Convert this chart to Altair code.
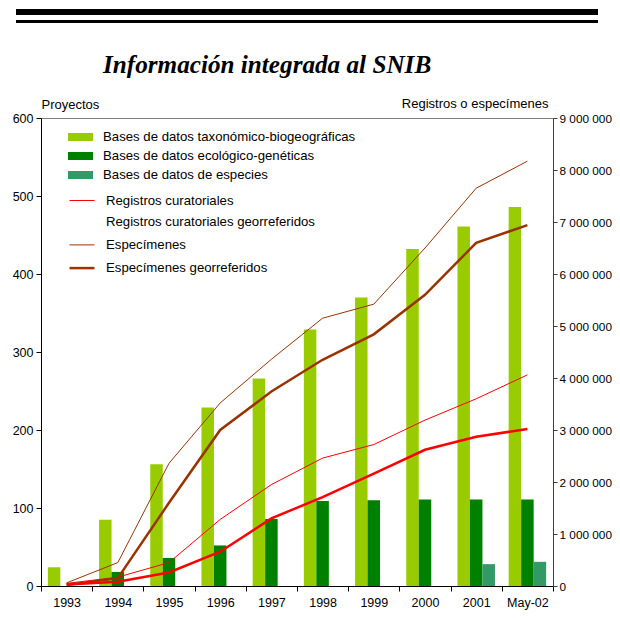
import altair as alt
import pandas as pd

# ---- data ----
years = ["1993", "1994", "1995", "1996", "1997", "1998", "1999", "2000", "2001", "May-02"]

bar_series = [
    "Bases de datos taxonómico-biogeográficas",
    "Bases de datos ecológico-genéticas",
    "Bases de datos de especies",
]
taxo = [24, 85, 156, 229, 266, 329, 370, 432, 461, 486]
eco = [0, 18, 36, 52, 86, 109, 110, 111, 111, 111]
especies = [0, 0, 0, 0, 0, 0, 0, 0, 28, 31]

line_series = [
    "Registros curatoriales",
    "Registros curatoriales georreferidos",
    "Especímenes",
    "Especímenes georreferidos",
]
reg_cur = [50000, 170000, 450000, 1280000, 1950000, 2460000, 2720000, 3190000, 3600000, 4060000]
reg_geo = [30000, 80000, 260000, 660000, 1300000, 1710000, 2160000, 2620000, 2870000, 3020000]
espec = [60000, 450000, 2360000, 3520000, 4360000, 5150000, 5420000, 6500000, 7650000, 8170000]
espec_geo = [20000, 150000, 1600000, 3000000, 3740000, 4350000, 4840000, 5600000, 6600000, 6940000]

bar_colors = ["#99CC00", "#008000", "#339966"]
line_colors = ["#FF0000", "#FF0000", "#993300", "#993300"]
# legend symbol of the georeferenced records is blank in the reference:
legend_widths = [1, 0, 1, 2.5]

title_text = "Información integrada al SNIB"

# ---- tables ----
bar_rows = []
for i, yr in enumerate(years):
    for s, vals in zip(bar_series, [taxo, eco, especies]):
        bar_rows.append({"anio": yr, "serie": s, "valor": vals[i]})
bars_df = pd.DataFrame(bar_rows)

line_rows = []
for s, vals in zip(line_series, [reg_cur, reg_geo, espec, espec_geo]):
    for i, yr in enumerate(years):
        line_rows.append({"anio": yr, "serie": s, "valor": vals[i]})
lines_df = pd.DataFrame(line_rows)

FONT = "Liberation Sans"

x_axis = alt.Axis(
    title=None, labelAngle=0, tickBand="extent", tickSize=5, labelPadding=5,
    domainColor="black", tickColor="black", labelColor="black",
    labelFontSize=12.5, grid=False,
)
x_enc = alt.X("anio:N", sort=years,
              scale=alt.Scale(domain=years, paddingInner=0, paddingOuter=0),
              axis=x_axis)

bars = alt.Chart(bars_df).mark_bar().encode(
    x=x_enc,
    xOffset=alt.XOffset("serie:N", sort=bar_series,
                        scale=alt.Scale(domain=bar_series, paddingInner=0, paddingOuter=0.548)),
    y=alt.Y("valor:Q", scale=alt.Scale(domain=[0, 600]),
            axis=alt.Axis(
                values=[0, 100, 200, 300, 400, 500, 600], grid=False,
                tickSize=5, labelPadding=3, domainColor="black", tickColor="black",
                labelColor="black", labelFontSize=12.5,
                title="Proyectos", titleAngle=0, titleX=0, titleY=-10,
                titleAlign="left", titleBaseline="alphabetic",
                titleFontWeight="normal", titleFontSize=13, titleColor="black",
            )),
    color=alt.Color("serie:N", sort=bar_series,
                    scale=alt.Scale(domain=bar_series, range=bar_colors),
                    legend=alt.Legend(
                        title=None, orient="none", legendX=31.5, legendY=11,
                        symbolType="M-1.56,-0.5H1.56V0.5H-1.56Z", symbolSize=256,
                        symbolStrokeWidth=0, labelFontSize=13.2, labelOffset=14.5,
                        rowPadding=4, padding=0, labelColor="black", labelLimit=0,
                    )),
)

line_legend = alt.Legend(
    title=None, orient="none", legendX=31.5, legendY=74,
    symbolType="M-1.56,0H1.56", symbolSize=256, symbolFillColor="transparent",
    labelFontSize=13.2, labelOffset=14.5, rowPadding=7.2, padding=0,
    labelColor="black", labelLimit=0,
)

y_right = alt.Y("valor:Q", scale=alt.Scale(domain=[0, 9000000]),
                axis=alt.Axis(
                    orient="right", values=list(range(0, 9000001, 1000000)),
                    format=",d", grid=False, tickSize=4, labelPadding=2,
                    domainColor="#404040", tickColor="#404040", labelColor="black",
                    labelFontSize=11.8,
                    title="Registros o especímenes", titleAngle=0, titleX=-5, titleY=-11,
                    titleAlign="right", titleBaseline="alphabetic",
                    titleFontWeight="normal", titleFontSize=13, titleColor="black",
                ))

lines = alt.Chart(lines_df).mark_line().encode(
    x=x_enc,
    y=y_right,
    color=alt.Color("serie:N", sort=line_series,
                    scale=alt.Scale(domain=line_series, range=line_colors),
                    legend=line_legend),
    strokeWidth=alt.StrokeWidth("serie:N", sort=line_series,
                                scale=alt.Scale(type="ordinal", domain=line_series,
                                                range=legend_widths),
                                legend=line_legend),
)

thick_red = alt.Chart(lines_df).transform_filter(
    alt.datum.serie == line_series[1]
).mark_line(color="#FF0000", strokeWidth=2.5).encode(
    x=x_enc,
    y=y_right,
)

line_layer = alt.layer(lines, thick_red)

one = pd.DataFrame({"k": [0]})
rule_thick = alt.Chart(one).mark_rule(color="black", strokeWidth=6).encode(
    x=alt.value(-25), x2=alt.value(557), y=alt.value(-106))
rule_thin = alt.Chart(one).mark_rule(color="black", strokeWidth=3).encode(
    x=alt.value(-25), x2=alt.value(557), y=alt.value(-96.5))
title_mark = alt.Chart(one).mark_text(
    text=title_text, font="Liberation Serif", fontSize=25.2, fontStyle="italic",
    fontWeight="bold", align="left", baseline="alphabetic", color="black",
).encode(x=alt.value(62), y=alt.value(-45.5))

chart = alt.layer(bars, line_layer, rule_thick, rule_thin, title_mark).resolve_scale(
    y="independent", color="independent", strokeWidth="independent"
).resolve_legend(
    color="independent", strokeWidth="independent"
).properties(
    width=512, height=468,
    autosize=alt.AutoSizeParams(type="none"),
    padding={"left": 33, "top": 110, "right": 59, "bottom": 25},
).configure(
    font=FONT,
    locale={"number": {"decimal": ",", "thousands": "\u00a0", "grouping": [3],
                       "currency": ["", ""]}},
).configure_view(stroke="#808080", strokeWidth=1)

chart.save("out.html", embed_options={"renderer": "svg", "actions": False})
